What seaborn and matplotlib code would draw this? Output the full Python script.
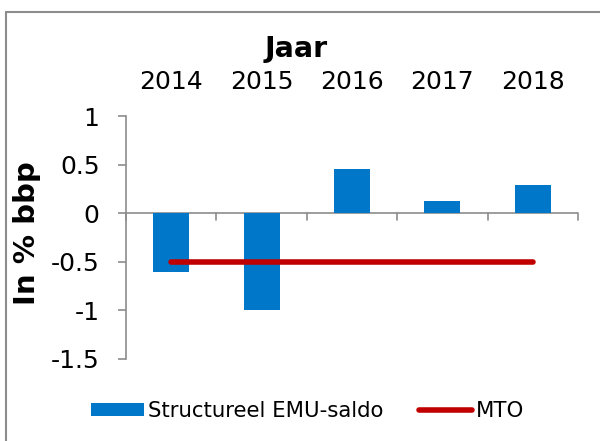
import matplotlib
matplotlib.use("Agg")
import matplotlib.pyplot as plt
import seaborn as sns
import pandas as pd
from matplotlib.lines import Line2D
from matplotlib.patches import Patch

years = ["2014", "2015", "2016", "2017", "2018"]
saldo = [-0.6, -1.0, 0.45, 0.13, 0.29]
mto = [-0.5, -0.5, -0.5, -0.5, -0.5]
yticks = [1, 0.5, 0, -0.5, -1, -1.5]
ytick_labels = ["1", "0.5", "0", "-0.5", "-1", "-1.5"]

sns.set_theme(style="white")
plt.rcParams['font.family'] = ['DejaVu Sans']
plt.rcParams['text.color'] = 'black'
plt.rcParams['axes.labelcolor'] = 'black'
plt.rcParams['xtick.color'] = 'black'
plt.rcParams['ytick.color'] = 'black'

df = pd.DataFrame({"Jaar": years, "saldo": saldo, "mto": mto})

W, H = 600, 441
fig = plt.figure(figsize=(6, 4.41), dpi=100)
ax = fig.add_axes([126 / W, 1 - 359 / H, (578 - 126) / W, (359 - 116) / H])

bar_color = "#0077C8"
line_color = "#C00000"
grey = "#8C8C8C"

sns.barplot(data=df, x="Jaar", y="saldo", color=bar_color, width=0.4,
            saturation=1, ax=ax, zorder=2, linewidth=0, edgecolor=bar_color)
sns.lineplot(x=list(range(len(years))), y=df["mto"], color=line_color,
             linewidth=4, ax=ax, zorder=3, solid_capstyle="round")

ax.set_xlim(-0.5, len(years) - 0.5)
ax.set_ylim(-1.5, 1)
ax.set_yticks(yticks)
ax.set_yticklabels(ytick_labels, fontsize=18, color="black")

# categories labels on top
ax.xaxis.set_ticks_position("top")
ax.set_xticks(range(len(years)))
ax.set_xticklabels(years, fontsize=18, color="black")
ax.tick_params(axis="x", which="major", length=0, pad=16)
ax.set_xlabel("")
ax.set_ylabel("")

for s in ["top", "right", "bottom"]:
    ax.spines[s].set_visible(False)
ax.spines["left"].set_color(grey)
ax.spines["left"].set_linewidth(1.2)
ax.tick_params(axis="y", which="major", length=6, width=1.2, color=grey,
               direction="out", left=True, pad=13, labelcolor="black")

# zero axis line with downward category boundary ticks
ax.axhline(0, color=grey, linewidth=1.2, zorder=1)
for b in [i - 0.5 for i in range(len(years) + 1)]:
    ax.plot([b, b], [0, -0.07], color=grey, linewidth=1.2, zorder=1,
            clip_on=False)

# axis titles
fig.text(296 / W, 1 - 49 / H, "Jaar", fontsize=20.5, fontweight="bold",
         ha="center", va="center", color="black")
fig.text(27 / W, 1 - 233 / H, "In % bbp", fontsize=21, fontweight="bold",
         rotation=90, ha="center", va="center", color="black")

# legend
handles = [Patch(facecolor=bar_color, edgecolor="none"),
           Line2D([0], [0], color=line_color, linewidth=4,
                  solid_capstyle="round")]
leg = fig.legend(handles, ["Structureel EMU-saldo", "MTO"],
                 loc="center", bbox_to_anchor=(0.513, 1 - 411 / H), ncol=2,
                 frameon=False, fontsize=15.3, handlelength=2.5,
                 handletextpad=0.2, columnspacing=1.65, handleheight=0.5)
for t in leg.get_texts():
    t.set_color("black")

# outer border (top and left visible)
fig.add_artist(Line2D([6 / W, 6 / W], [0, 1 - 11.5 / H], color=grey,
                      linewidth=1.5, transform=fig.transFigure))
fig.add_artist(Line2D([6 / W, 1], [1 - 11.5 / H, 1 - 11.5 / H], color=grey,
                      linewidth=1.5, transform=fig.transFigure))

fig.savefig("out.png", dpi=100)
